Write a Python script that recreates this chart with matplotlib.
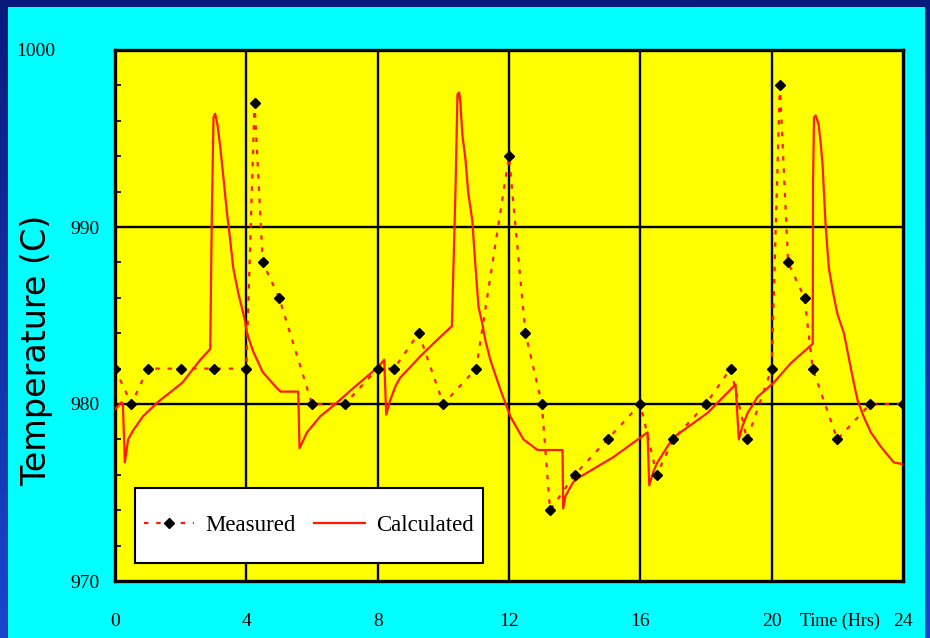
import numpy as np
import matplotlib
matplotlib.use("Agg")
import matplotlib.pyplot as plt
from matplotlib.patches import Rectangle
from matplotlib.colors import LinearSegmentedColormap
from matplotlib.transforms import ScaledTranslation, blended_transform_factory

# Measured furnace temperature readings
meas_hours = [0, 0.5, 1, 2, 3, 4, 4.25, 4.5, 5, 6, 7, 8,
              8.5, 9.25, 10, 11, 12, 12.5, 13, 13.25, 14, 15, 16, 16.5,
              17, 18, 18.75, 19.25, 20, 20.25, 20.5, 21, 21.25, 22, 23, 24]
meas_temp = [982, 980, 982, 982, 982, 982, 997, 988, 986, 980, 980, 982,
             982, 984, 980, 982, 994, 984, 980, 974, 976, 978, 980, 976,
             978, 980, 982, 978, 982, 998, 988, 986, 982, 978, 980, 980]

# Model-calculated temperature
calc_hours = [0.00, 0.20, 0.24, 0.30, 0.40, 0.55, 0.85, 1.30, 2.05, 2.60,
              2.90, 2.95, 3.00, 3.05, 3.12, 3.20, 3.29, 3.41, 3.50, 3.60,
              3.75, 3.96, 4.02, 4.20, 4.50, 4.93, 5.05, 5.58, 5.62, 5.85,
              6.25, 6.65, 7.26, 8.02, 8.20, 8.26, 8.38, 8.54, 8.69, 9.00,
              9.30, 9.80, 10.26, 10.37, 10.43, 10.48, 10.52, 10.58, 10.67, 10.76,
              10.88, 10.97, 11.07, 11.18, 11.28, 11.43, 11.74, 12.04, 12.44, 12.87,
              13.63, 13.65, 13.72, 13.96, 14.18, 15.18, 16.00, 16.22, 16.27, 16.40,
              16.52, 17.00, 18.05, 18.90, 19.00, 19.10, 19.27, 19.57, 20.06, 20.58,
              21.25, 21.26, 21.29, 21.34, 21.43, 21.50, 21.55, 21.64, 21.74, 21.86,
              22.00, 22.20, 22.50, 22.62, 22.80, 23.02, 23.32, 23.72, 24.00]
calc_temp = [979.7, 980.1, 980.0, 976.7, 978.0, 978.5, 979.3, 980.1, 981.2, 982.5,
             983.1, 990.8, 996.2, 996.4, 995.8, 994.6, 993.0, 990.8, 989.4, 987.7,
             986.3, 984.7, 984.0, 983.0, 981.8, 980.9, 980.7, 980.7, 977.5, 978.4,
             979.3, 979.9, 980.9, 982.1, 982.5, 979.4, 980.2, 981.0, 981.5, 982.1,
             982.7, 983.6, 984.4, 992.1, 997.5, 997.6, 997.0, 995.2, 993.9, 991.9,
             990.4, 988.0, 985.5, 984.6, 983.6, 982.5, 980.8, 979.3, 978.0, 977.4,
             977.4, 974.1, 974.8, 975.6, 975.9, 977.0, 978.1, 978.4, 975.4, 976.2,
             976.7, 978.1, 979.5, 981.1, 978.0, 978.7, 979.5, 980.4, 981.2, 982.3,
             983.4, 992.5, 996.2, 996.3, 995.8, 994.6, 993.5, 990.2, 987.7, 986.4,
             985.1, 984.0, 981.2, 980.2, 979.3, 978.4, 977.6, 976.7, 976.6]

x_ticks = [0, 4, 8, 12, 16, 20, 24]
x_labels = ["0", "4", "8", "12", "16", "20", "24"]
y_ticks = [970, 980, 990, 1000]
y_labels = ["970", "980", "990", "1000"]

W, H = 930, 638
fig = plt.figure(figsize=(W / 100, H / 100), dpi=100)

# dark blue backdrop with a soft vertical gradient
bg = fig.add_axes([0, 0, 1, 1], zorder=-10)
grad = np.linspace(0, 1, 256)[:, None]
cmap = LinearSegmentedColormap.from_list("bgblue", ["#0a1a7c", "#1a46cc"])
bg.imshow(grad, aspect="auto", cmap=cmap, extent=[0, 1, 0, 1], origin="upper")
bg.set_xlim(0, 1)
bg.set_ylim(0, 1)
bg.axis("off")

# cyan panel
fig.patches.append(Rectangle((8 / W, 0), (925 - 8) / W, (H - 7) / H,
                             transform=fig.transFigure, facecolor="#00ffff",
                             edgecolor="none", zorder=-5))

left, right, top, bottom = 115, 903, 50, 581
aw, ah = right - left, bottom - top
ax = fig.add_axes([left / W, 1 - bottom / H, aw / W, ah / H])
ax.set_facecolor("#ffff00")

ax.plot(meas_hours, meas_temp, color="#ff1a00", lw=1.6, ls=(0, (2, 3.5)),
        marker="D", ms=5.5, mfc="black", mec="black", label="Measured", zorder=4)
ax.plot(calc_hours, calc_temp, color="#ff1a00", lw=1.6, label="Calculated", zorder=3)

ax.set_xlim(0, 24)
ax.set_ylim(970, 1000)

serif = "Liberation Serif"
ax.set_xticks(x_ticks)
ax.set_xticklabels(x_labels, family=serif, fontsize=14)
ax.set_yticks(y_ticks)
ax.set_yticklabels(y_labels, family=serif, fontsize=14)
ax.set_yticks(np.arange(970, 1001, 2), minor=True)
ax.tick_params(axis="x", length=0, pad=23)
ax.tick_params(axis="y", which="both", direction="in", length=4, width=1.2,
               pad=11, colors="black")

# pull the top label further out to the left
for t in ax.yaxis.get_major_ticks():
    if t.get_loc() == 1000:
        t.label1.set_transform(t.label1.get_transform() +
                               ScaledTranslation(-0.44, 0, fig.dpi_scale_trans))

for v in [4, 8, 12, 16, 20]:
    ax.axvline(v, color="black", lw=1.7, zorder=2)
for v in [980, 990]:
    ax.axhline(v, color="black", lw=1.7, zorder=2)

for s in ax.spines.values():
    s.set_linewidth(2.4)
    s.set_color("black")

# legend box drawn as a plain white panel, entries centred inside it
bx0, bx1, by0, by1 = 135, 483, 488, 563
ax.add_patch(Rectangle(((bx0 - left) / aw, (bottom - by1) / ah),
                       (bx1 - bx0) / aw, (by1 - by0) / ah,
                       transform=ax.transAxes, facecolor="white",
                       edgecolor="black", lw=1.5, zorder=9))
leg = ax.legend(loc="center",
                bbox_to_anchor=(((bx0 + bx1) / 2 - left) / aw,
                                (bottom - (by0 + by1) / 2) / ah),
                borderaxespad=0, ncol=2, numpoints=1, frameon=False,
                prop={"family": serif, "size": 16.5}, handlelength=2.2,
                handletextpad=0.5, columnspacing=0.8, borderpad=0.0)
leg.set_zorder(10)

trans = blended_transform_factory(ax.transData, ax.transAxes)
ax.text(22.07, -(621 - bottom) / ah, "Time (Hrs)", transform=trans,
        ha="center", va="center", family=serif, fontsize=13)

fig.text(37 / W, 1 - 350 / H, "Temperature (C)", rotation=90, ha="center",
         va="center", family="DejaVu Sans", fontsize=24)

fig.savefig("out.png", dpi=100)
